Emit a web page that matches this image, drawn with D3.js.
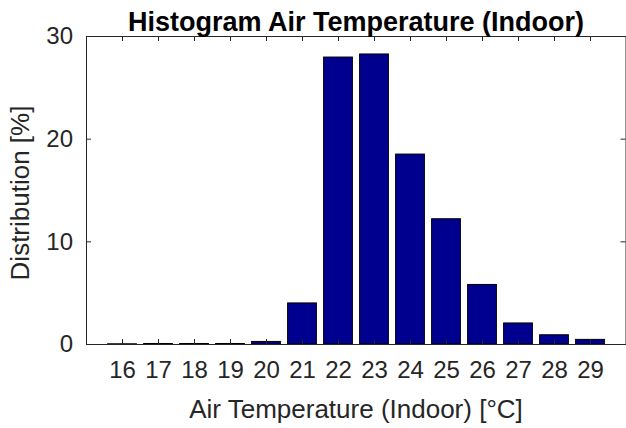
<!DOCTYPE html>
<html>
<head>
<meta charset="utf-8">
<script src="https://cdn.jsdelivr.net/npm/d3@7"></script>
<style>
  body { margin: 0; background: #fff; }
  text { font-family: "Liberation Sans", Arial, sans-serif; }
</style>
</head>
<body>
<svg id="chart" width="626" height="428"></svg>
<script>
// histogram bins (deg C) and share of hours in each bin (%)
const temps = [16, 17, 18, 19, 20, 21, 22, 23, 24, 25, 26, 27, 28, 29];
const share = [0.02, 0.05, 0.05, 0.05, 0.25, 4.0, 27.95, 28.25, 18.5, 12.2, 5.8, 2.05, 0.9, 0.45];
const yTicks = [0, 10, 20, 30];

const title = "Histogram Air Temperature (Indoor)";
const xLabel = "Air Temperature (Indoor) [°C]";
const yLabel = "Distribution [%]";

const svg = d3.select("#chart");
const m = {left: 86, top: 36, right: 626, bottom: 344};

const x = d3.scaleLinear().domain([15, 30]).range([m.left, m.right]);
const y = d3.scaleLinear().domain([0, 30]).range([m.bottom, m.top]);
const barW = (x(1) - x(0)) * 0.8;
const axisCol = "#262626";
const midX = (m.left + m.right) / 2;

// bars
svg.append("g")
  .selectAll("rect")
  .data(temps)
  .enter()
  .append("rect")
  .attr("x", (d) => x(d) - barW / 2)
  .attr("y", (d, i) => y(share[i]))
  .attr("width", barW)
  .attr("height", (d, i) => y(0) - y(share[i]))
  .attr("fill", "#00008f")
  .attr("stroke", "#000")
  .attr("stroke-width", 1);

// axes, matlab style: ticks inward, box on
const xAxis = svg.append("g")
  .attr("transform", `translate(0,${m.bottom})`)
  .call(d3.axisBottom(x).tickValues(temps).tickSizeInner(-5).tickSizeOuter(0).tickPadding(17));
const xTop = svg.append("g")
  .attr("transform", `translate(0,${m.top})`)
  .call(d3.axisTop(x).tickValues(temps).tickSizeInner(-5).tickSizeOuter(0).tickFormat(""));
const yAxis = svg.append("g")
  .attr("transform", `translate(${m.left},0)`)
  .call(d3.axisLeft(y).tickValues(yTicks).tickSizeInner(-5).tickSizeOuter(0).tickPadding(13));
const yRight = svg.append("g")
  .attr("transform", `translate(${m.right - 0.5},0)`)
  .call(d3.axisRight(y).tickValues(yTicks).tickSizeInner(-5).tickSizeOuter(0).tickFormat(""));

[xAxis, xTop, yAxis, yRight].forEach((g) => {
  g.selectAll("path, line").attr("stroke", axisCol).attr("stroke-width", 1);
  g.selectAll("text").attr("fill", axisCol).style("font-size", "24px")
    .style("font-family", "'Liberation Sans', Arial, sans-serif");
});
xAxis.selectAll("text").attr("dy", "0.71em");

// titles
svg.append("text")
  .attr("x", midX)
  .attr("y", 31)
  .attr("text-anchor", "middle")
  .style("font-size", "27px")
  .style("font-weight", "bold")
  .attr("fill", "#000")
  .text(title);

svg.append("text")
  .attr("x", midX)
  .attr("y", 418)
  .attr("text-anchor", "middle")
  .style("font-size", "26px")
  .attr("fill", axisCol)
  .text(xLabel);

svg.append("text")
  .attr("transform", "translate(29,193) rotate(-90)")
  .attr("text-anchor", "middle")
  .style("font-size", "26px")
  .attr("fill", axisCol)
  .text(yLabel);
</script>
</body>
</html>
